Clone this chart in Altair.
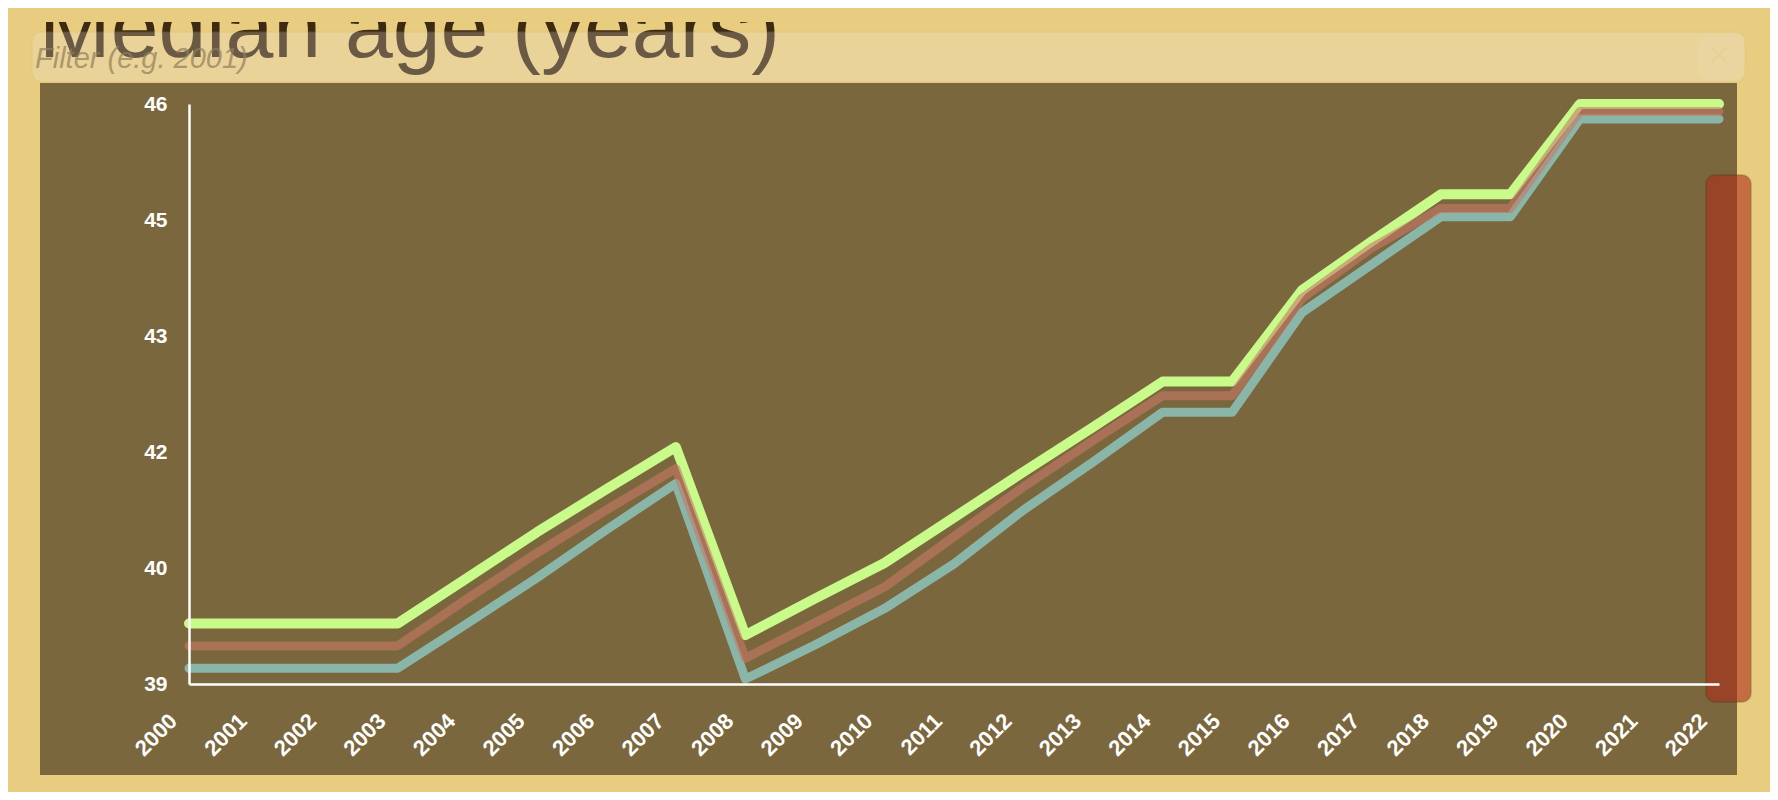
import altair as alt
import pandas as pd

years = list(range(2000, 2023))

series_green = [39.73, 39.73, 39.73, 39.73, 40.28, 40.83, 41.35, 41.86, 39.59, 40.03,
                40.46, 41.01, 41.56, 42.10, 42.65, 42.65, 43.75, 44.34, 44.91, 44.91,
                46.00, 46.00, 46.00]
series_red = [39.46, 39.46, 39.46, 39.46, 40.03, 40.58, 41.10, 41.60, 39.31, 39.74,
              40.17, 40.78, 41.38, 41.94, 42.48, 42.48, 43.65, 44.26, 44.74, 44.74,
              45.91, 45.91, 45.91]
series_teal = [39.19, 39.19, 39.19, 39.19, 39.73, 40.28, 40.86, 41.42, 39.06, 39.47,
               39.91, 40.45, 41.10, 41.68, 42.28, 42.28, 43.48, 44.06, 44.64, 44.64,
               45.82, 45.82, 45.82]

y_tick_values = [39, 40.4, 41.8, 43.2, 44.6, 46]
title_text = "Median age (years)"
filter_placeholder = "Filter (e.g. 2001)"

PAGE_BG = "#e8cd81"
PANEL_BG = "#7b673e"

W, H = 1530, 580
PAD = {"left": 181, "top": 96, "right": 51, "bottom": 108}

one = pd.DataFrame({"k": [0]})

common_axis = dict(
    title=None, zindex=1, ticks=False, domainColor="white", domainWidth=2.5,
    labelColor="white", labelFont="Liberation Sans", labelFontWeight="bold", grid=False,
)

x_enc = alt.X(
    "year:O",
    scale=alt.Scale(type="point", padding=0),
    axis=alt.Axis(labelAngle=-45, labelPadding=26, labelOffset=-23,
                  labelFontSize=22, **common_axis),
)
y_enc = alt.Y(
    "value:Q",
    scale=alt.Scale(domain=[39, 46], nice=False, zero=False),
    axis=alt.Axis(values=y_tick_values, format=".0f", labelPadding=22,
                  labelFontSize=21, **common_axis),
)


def line_layer(vals, color, width, opacity):
    df = pd.DataFrame({"year": years, "value": vals})
    return alt.Chart(df).mark_line(
        color=color, strokeWidth=width, opacity=opacity,
        strokeCap="round", strokeJoin="round",
    ).encode(x=x_enc, y=y_enc)


panel = alt.Chart(one).mark_rect(color=PANEL_BG).encode(
    x=alt.value(-149), x2=alt.value(1548), y=alt.value(-21), y2=alt.value(671)
)

teal = line_layer(series_teal, "#8cc8c0", 9, 0.82)
green = line_layer(series_green, "#c8fb8a", 10, 1.0)
red = line_layer(series_red, "#c87868", 9, 0.6)

bar = alt.Chart(one).mark_rect(
    color="#af2d19", opacity=0.6, cornerRadius=9,
    stroke="#3a2a10", strokeOpacity=0.35, strokeWidth=2,
).encode(x=alt.value(1517), x2=alt.value(1562), y=alt.value(71), y2=alt.value(598))

title = alt.Chart(one).mark_text(
    text=title_text, align="left", baseline="alphabetic",
    font="Liberation Sans", fontSize=86, color="#3d2a12",
).encode(x=alt.value(-150), y=alt.value(-47))

box = alt.Chart(one).mark_rect(
    color="#f0e8dc", opacity=0.25, cornerRadius=9,
    stroke="#d3b460", strokeOpacity=0.6, strokeWidth=1.5,
).encode(x=alt.value(-157), x2=alt.value(1556), y=alt.value(-72), y2=alt.value(-22))

placeholder = alt.Chart(one).mark_text(
    text=filter_placeholder, align="left", baseline="alphabetic",
    font="Liberation Sans", fontSize=29, fontStyle="italic",
    color="#8f7f5c", opacity=0.7,
).encode(x=alt.value(-154), y=alt.value(-36))

clear_btn = alt.Chart(one).mark_rect(
    color="#f0e8dc", opacity=0.12, cornerRadius=12,
).encode(x=alt.value(1509), x2=alt.value(1556), y=alt.value(-70), y2=alt.value(-24))

clear_x = alt.Chart(one).mark_text(
    text="×", align="center", baseline="middle",
    font="Liberation Sans", fontSize=34, color="#e0c888", opacity=0.3,
).encode(x=alt.value(1530), y=alt.value(-48))

top_strip = alt.Chart(one).mark_rect(color=PAGE_BG).encode(
    x=alt.value(-181), x2=alt.value(1581), y=alt.value(-96), y2=alt.value(-82)
)

chart = alt.layer(
    panel, teal, green, red, bar, title, box, placeholder, clear_btn, clear_x, top_strip
).properties(
    width=W, height=H,
    autosize=alt.AutoSizeParams(type="none"),
    padding=PAD,
    background=PAGE_BG,
).configure_view(
    stroke=None
)

chart.save("out.html", embed_options={"renderer": "svg", "actions": False})
